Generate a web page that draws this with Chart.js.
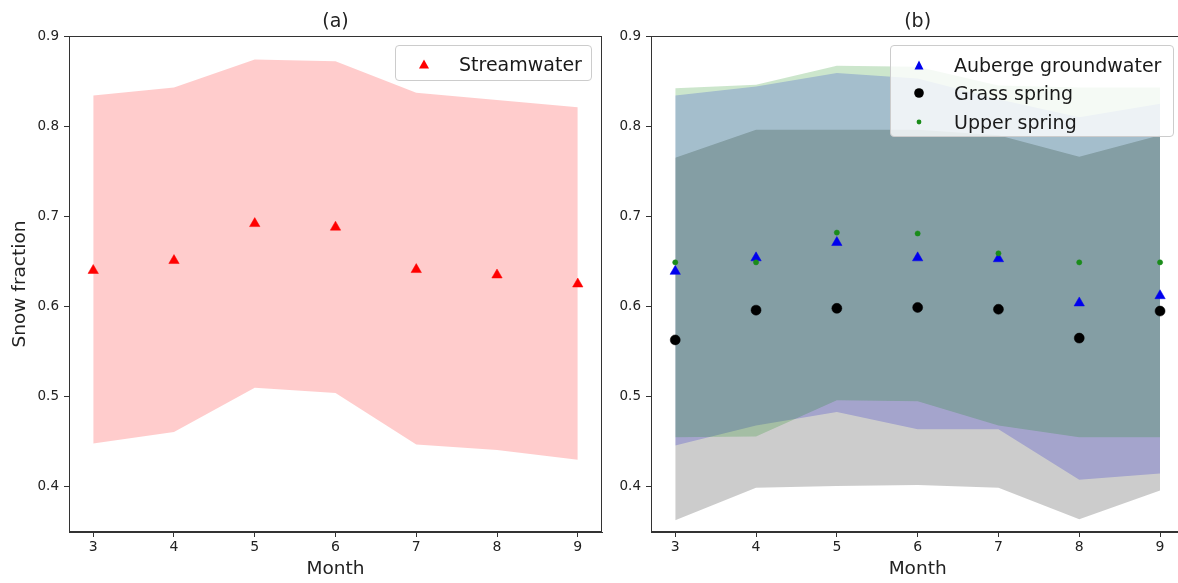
<!DOCTYPE html>
<html>
<head>
<meta charset="utf-8">
<script src="https://cdn.jsdelivr.net/npm/chart.js@4.4.0/dist/chart.umd.min.js"></script>
<style>
  html, body { margin:0; padding:0; width:1178px; height:583px; overflow:hidden; background:#fff; }
  body { position:relative; font-family:'DejaVu Sans', sans-serif; }
  #ca { position:absolute; left:0; top:0; }
  #cb { position:absolute; left:590px; top:0; }
  .leg { position:absolute; background:rgba(255,255,255,0.8); border:1px solid #cccccc; border-radius:4px; box-sizing:border-box; }
  .row { position:absolute; left:0; right:0; height:28px; }
  .row svg { position:absolute; top:7px; }
  .row span { position:absolute; top:0; line-height:28px; font-size:19px; color:#1a1a1a; white-space:nowrap; }
</style>
</head>
<body>
<canvas id="ca" width="612" height="583"></canvas>
<canvas id="cb" width="612" height="583"></canvas>

<div class="leg" style="left:395px; top:45px; width:197px; height:36px;">
  <div class="row" style="top:4px;">
    <svg width="14" height="14" style="left:21px;"><polygon points="7,2.5 12,11.5 2,11.5" fill="#ff0000"/></svg>
    <span style="left:63px;">Streamwater</span>
  </div>
</div>

<div class="leg" style="left:890px; top:45px; width:284px; height:92px;">
  <div class="row" style="top:5px;">
    <svg width="14" height="14" style="left:21px;"><polygon points="7,2.5 11.5,11.5 2.5,11.5" fill="#0000ee"/></svg>
    <span style="left:63px;">Auberge groundwater</span>
  </div>
  <div class="row" style="top:33px;">
    <svg width="14" height="14" style="left:21px;"><circle cx="7" cy="7" r="4.8" fill="#000"/></svg>
    <span style="left:63px;">Grass spring</span>
  </div>
  <div class="row" style="top:62px;">
    <svg width="14" height="14" style="left:21px;"><circle cx="7" cy="7" r="2.4" fill="#1a8c1a"/></svg>
    <span style="left:63px;">Upper spring</span>
  </div>
</div>

<script>
// ---- data ----
const months = [3, 4, 5, 6, 7, 8, 9];
const yTicks = [0.4, 0.5, 0.6, 0.7, 0.8, 0.9];

const streamMean  = [0.640, 0.651, 0.692, 0.688, 0.641, 0.635, 0.625];
const streamUpper = [0.834, 0.843, 0.874, 0.872, 0.837, 0.829, 0.821];
const streamLower = [0.448, 0.461, 0.510, 0.504, 0.447, 0.441, 0.430];

const aubergeMean  = [0.639, 0.654, 0.671, 0.654, 0.653, 0.604, 0.612];
const aubergeUpper = [0.834, 0.844, 0.859, 0.853, 0.830, 0.810, 0.825];
const aubergeLower = [0.446, 0.468, 0.483, 0.464, 0.464, 0.408, 0.415];

const grassMean  = [0.563, 0.596, 0.598, 0.599, 0.597, 0.565, 0.595];
const grassUpper = [0.765, 0.796, 0.796, 0.796, 0.790, 0.766, 0.790];
const grassLower = [0.363, 0.399, 0.401, 0.402, 0.399, 0.364, 0.396];

const upperMean  = [0.649, 0.649, 0.682, 0.681, 0.659, 0.649, 0.649];
const upperUpper = [0.842, 0.846, 0.867, 0.866, 0.845, 0.843, 0.843];
const upperLower = [0.455, 0.456, 0.496, 0.495, 0.468, 0.455, 0.455];

// ---- helpers ----
const FONT = 'DejaVu Sans';
const pts = ys => months.map((m, i) => ({ x: m, y: ys[i] }));

function band(upper, lower, color) {
  return [
    { data: pts(upper), borderWidth: 0, borderColor: 'rgba(0,0,0,0)', pointRadius: 0,
      fill: '+1', backgroundColor: color, tension: 0 },
    { data: pts(lower), borderWidth: 0, borderColor: 'rgba(0,0,0,0)', pointRadius: 0,
      fill: false, tension: 0 }
  ];
}
function markers(ys, style, r, color) {
  return { data: pts(ys), showLine: false, pointStyle: style, pointRadius: r,
           backgroundColor: color, borderColor: color, borderWidth: 0.5 };
}

const frame = {
  id: 'frame',
  afterDraw(chart) {
    const { ctx, chartArea: a } = chart;
    ctx.save();
    ctx.strokeStyle = '#333';
    ctx.lineWidth = 1;
    const l = Math.round(a.left) + 0.5, t = Math.round(a.top) + 0.5;
    const r = Math.round(a.right) - 0.5, b = Math.round(a.bottom) - 0.5;
    ctx.strokeRect(l, t, r - l, b - t);
    ctx.restore();
  }
};

function makeScales(yWidth, showYTitle) {
  return {
    x: {
      type: 'linear', min: 2.7, max: 9.3,
      afterBuildTicks: s => { s.ticks = months.map(v => ({ value: v })); },
      afterFit: s => { s.height = 51; },
      ticks: { font: { family: FONT, size: 14 }, color: '#222', padding: 2,
               autoSkip: false, maxRotation: 0, callback: v => String(v) },
      grid: { drawOnChartArea: false, drawTicks: true, tickLength: 5, color: '#333' },
      border: { display: true, color: '#333', width: 1 },
      title: { display: true, text: 'Month', font: { family: FONT, size: 18.5 },
               color: '#222', padding: { top: 0, bottom: 3 } }
    },
    y: {
      type: 'linear', min: 0.35, max: 0.9,
      afterBuildTicks: s => { s.ticks = yTicks.map(v => ({ value: v })); },
      afterFit: s => { s.width = yWidth; },
      ticks: { font: { family: FONT, size: 13.5 }, color: '#222', padding: 5,
               callback: v => Number(v).toFixed(1) },
      grid: { drawOnChartArea: false, drawTicks: true, tickLength: 5, color: '#333' },
      border: { display: true, color: '#333', width: 1 },
      title: { display: showYTitle, text: 'Snow fraction', font: { family: FONT, size: 18.5 },
               color: '#222', padding: { top: 9, bottom: 0 } }
    }
  };
}

function makeOptions(title, yWidth, showYTitle, padRight) {
  return {
    responsive: false,
    animation: false,
    devicePixelRatio: 1,
    layout: { padding: { left: 0, right: padRight, top: 0, bottom: 0 } },
    scales: makeScales(yWidth, showYTitle),
    plugins: {
      legend: { display: false },
      tooltip: { enabled: false },
      title: { display: true, text: title, fullSize: false, align: 'center',
               font: { family: FONT, size: 19, weight: 'normal' }, color: '#222',
               padding: { top: 11, bottom: 2.2 } }
    }
  };
}

// ---- panel (a) ----
new Chart(document.getElementById('ca'), {
  type: 'line',
  data: {
    datasets: [
      markers(streamMean, 'triangle', 6, '#ff0000'),
      ...band(streamUpper, streamLower, 'rgba(255,0,0,0.2)')
    ]
  },
  options: makeOptions('(a)', 69, true, 10),
  plugins: [frame]
});

// ---- panel (b) ----
new Chart(document.getElementById('cb'), {
  type: 'line',
  data: {
    datasets: [
      markers(upperMean, 'circle', 2.6, '#1a8c1a'),
      markers(aubergeMean, 'triangle', 6, '#0000ee'),
      markers(grassMean, 'circle', 5, '#000000'),
      ...band(upperUpper, upperLower, 'rgba(0,128,0,0.2)'),
      ...band(grassUpper, grassLower, 'rgba(0,0,0,0.2)'),
      ...band(aubergeUpper, aubergeLower, 'rgba(0,0,255,0.2)')
    ]
  },
  options: makeOptions('(b)', 61, false, 17.7),
  plugins: [frame]
});
</script>
</body>
</html>
